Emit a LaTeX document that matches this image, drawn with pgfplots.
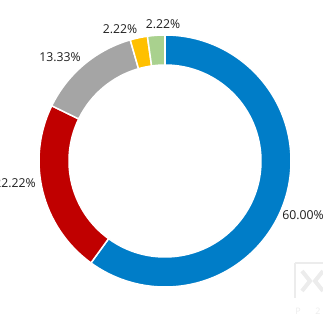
\documentclass[border=0pt]{standalone}
\usepackage{pgfplots}
\pgfplotsset{compat=1.18}
\usepackage{pgfplotstable}
\usepackage{fontspec}
\setmainfont{Open Sans}
\definecolor{cblue}{RGB}{0,125,200}
\definecolor{cred}{RGB}{192,0,0}
\definecolor{cgray}{RGB}{165,165,165}
\definecolor{cyellow}{RGB}{255,192,0}
\definecolor{cgreen}{RGB}{169,209,142}
\definecolor{ctext}{RGB}{30,30,30}
\definecolor{wm}{RGB}{236,236,236}
% share (%) of each segment, clockwise from 12 o'clock
\pgfplotstableread{
share color
60.00 cblue
22.22 cred
13.33 cgray
2.22 cyellow
2.22 cgreen
}\donutdata
\begin{document}
\begin{tikzpicture}
\begin{axis}[
  x=1bp, y=1bp,
  xmin=-165, xmax=158, ymin=-162, ymax=161,
  hide axis, clip=false,
]
\pgfplotstablegetrowsof{\donutdata}
\pgfmathtruncatemacro{\nrows}{\pgfplotsretval-1}
\def\cum{90}
\pgfplotsforeachungrouped \i in {0,...,\nrows}{%
  \pgfplotstablegetelem{\i}{share}\of{\donutdata}\let\val\pgfplotsretval
  \pgfplotstablegetelem{\i}{color}\of{\donutdata}\let\col\pgfplotsretval
  \pgfmathsetmacro{\aend}{\cum-3.6*\val}%
  \edef\temp{\noexpand\filldraw[fill=\col, draw=white, line width=1.5bp]
    (axis cs:{126*cos(\cum)},{126*sin(\cum)})
    arc[start angle=\cum, end angle=\aend, radius=126bp]
    -- (axis cs:{96*cos(\aend)},{96*sin(\aend)})
    arc[start angle=\aend, end angle=\cum, radius=96bp] -- cycle;}%
  \temp
  \global\let\cum\aend
}
\begin{scope}[every node/.style={font=\fontsize{12.3}{14}\selectfont, text=ctext, inner sep=0pt}]
\node at (axis cs:138,-54) {60.00\%};
\node[anchor=east] at (axis cs:-129,-22) {22.22\%};
\node at (axis cs:-105,104) {13.33\%};
\node at (axis cs:-45,132) {2.22\%};
\node at (axis cs:-2,137) {2.22\%};
\end{scope}
% faint watermark
\draw[wm, line width=2.5bp] (axis cs:130,-102) -- (axis cs:130,-137);
\draw[wm, line width=2.5bp] (axis cs:130,-102) -- (axis cs:158,-102);
\draw[wm, line width=4bp] (axis cs:137,-110) -- (axis cs:145,-120) -- (axis cs:137,-130);
\draw[wm, line width=4bp] (axis cs:158,-110) -- (axis cs:150,-120) -- (axis cs:158,-130);
\node[text=wm, font=\fontsize{9}{10}\selectfont] at (axis cs:133,-150) {P};
\node[text=wm, font=\fontsize{9}{10}\selectfont] at (axis cs:153,-150) {2};
\end{axis}
\pgfresetboundingbox
\path (current axis.south west) rectangle (current axis.north east);
\end{tikzpicture}
\end{document}
